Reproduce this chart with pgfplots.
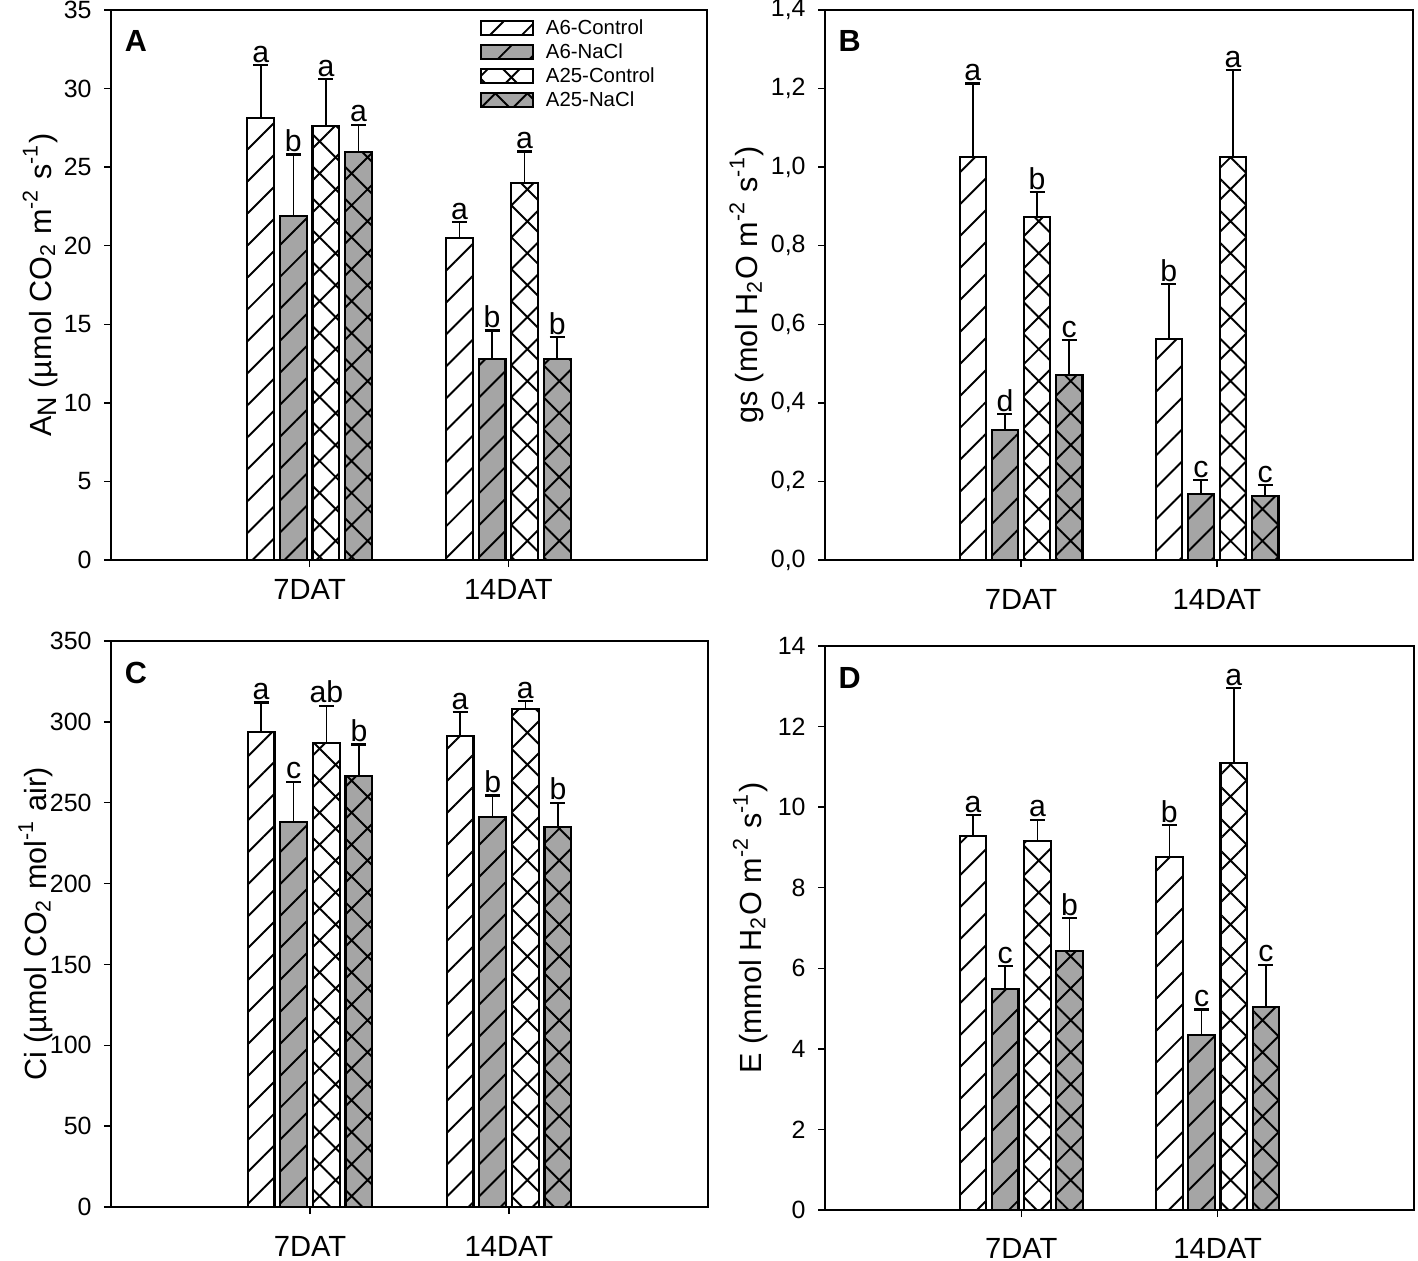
\documentclass[border=0pt]{standalone}
\usepackage{pgfplots}
\pgfplotsset{compat=1.18}
\usepackage{pgfplotstable}
\usepackage{fontspec}
\setmainfont{Liberation Sans}
\usetikzlibrary{patterns.meta}
\definecolor{barg}{RGB}{165,165,165}

\pgfplotstableread{
x v1 t1 l1 v2 t2 l2 v3 t3 l3 v4 t4 l4
1 28.1 31.5 a 21.9 25.8 b 27.6 30.6 a 25.95 27.7 a
2 20.5 21.5 a 12.8 14.6 b 24.0 26.0 a 12.8 14.2 b
}\dataA
\pgfplotstableread{
x v1 t1 l1 v2 t2 l2 v3 t3 l3 v4 t4 l4
1 1.025 1.213 a 0.330 0.372 d 0.872 0.937 b 0.471 0.560 c
2 0.563 0.702 b 0.169 0.204 c 1.025 1.247 a 0.163 0.191 c
}\dataB
\pgfplotstableread{
x v1 t1 l1 v2 t2 l2 v3 t3 l3 v4 t4 l4
1 293.5 312 a 238 263 c 287 310 ab 266.5 286 b
2 291 306 a 241 254.5 b 308 313 a 235 250 b
}\dataC
\pgfplotstableread{
x v1 t1 l1 v2 t2 l2 v3 t3 l3 v4 t4 l4
1 9.29 9.80 a 5.49 6.05 c 9.17 9.69 a 6.43 7.24 b
2 8.77 9.56 b 4.34 4.98 c 11.09 12.96 a 5.04 6.09 c
}\dataD

\pgfplotsset{
  legbox/.style={legend image code/.code={\draw[##1, line width=0.6pt] (0mm,-0.7mm) rectangle (5.2mm,0.7mm);}},
  barbase/.style={ybar, bar width=0.135, bar shift=0pt, draw=black, line width=0.6pt,
    error bars/y dir=plus, error bars/y explicit,
    error bars/error bar style={line width=0.45pt, black},
    error bars/error mark options={rotate=90, mark size=0.75mm, line width=0.65pt, black},
    legbox},
  s1/.style={barbase, fill=white, postaction={pattern={Lines[angle=45,distance=2.26mm,line width=0.55pt]}}},
  s2/.style={barbase, fill=barg, postaction={pattern={Lines[angle=45,distance=2.26mm,line width=0.55pt]}}},
  s3/.style={barbase, fill=white, postaction={pattern={Hatch[angle=45,distance=2.26mm,line width=0.55pt]}}},
  s4/.style={barbase, fill=barg, postaction={pattern={Hatch[angle=45,distance=2.26mm,line width=0.55pt]}}},
  lab/.style={ybar, bar width=0.135, bar shift=0pt, draw=none, fill=none, forget plot,
    nodes near coords, point meta=explicit symbolic,
    every node near coord/.append style={font=\fontsize{8.6}{9}\selectfont, inner sep=0.5pt, anchor=south, text=black}},
  common/.style={
    scale only axis, anchor=south west,
    xmin=0, xmax=3, ymin=0,
    xtick={1,2}, xticklabels={7DAT,14DAT},
    tick align=outside, tick pos=left,
    major tick length=0.7mm,
    axis line style={line width=0.6pt},
    every tick/.style={black, line width=0.4pt},
    yticklabel style={font=\fontsize{7.1}{8}\selectfont},
    xticklabel style={font=\fontsize{8.3}{9}\selectfont},
    /pgf/number format/assume math mode=true,
    ylabel style={font=\fontsize{8.7}{10}\selectfont, anchor=center},
  },
}

\newcommand{\panel}[1]{%
  \addplot[s1] table[x expr=\thisrow{x}-0.246, y=v1, y error expr=\thisrow{t1}-\thisrow{v1}] {#1};
  \addplot[s2] table[x expr=\thisrow{x}-0.082, y=v2, y error expr=\thisrow{t2}-\thisrow{v2}] {#1};
  \addplot[s3] table[x expr=\thisrow{x}+0.082, y=v3, y error expr=\thisrow{t3}-\thisrow{v3}] {#1};
  \addplot[s4] table[x expr=\thisrow{x}+0.246, y=v4, y error expr=\thisrow{t4}-\thisrow{v4}] {#1};
  \addplot[lab] table[x expr=\thisrow{x}-0.246, y=t1, meta=l1] {#1};
  \addplot[lab] table[x expr=\thisrow{x}-0.082, y=t2, meta=l2] {#1};
  \addplot[lab] table[x expr=\thisrow{x}+0.082, y=t3, meta=l3] {#1};
  \addplot[lab] table[x expr=\thisrow{x}+0.246, y=t4, meta=l4] {#1};
}
\newcommand{\plabel}[1]{\node[anchor=north west, inner sep=0pt, font=\fontsize{8.7}{10}\selectfont\bfseries] at (rel axis cs:0.022,0.964) {#1};}

\begin{document}
\begin{tikzpicture}
% Panel A
\begin{axis}[common, at={(11.1mm,70mm)}, width=59.6mm, height=55mm,
  ymax=35, ytick={0,5,...,35},
  ylabel={A\raisebox{-0.35ex}{\fontsize{7.6}{8}\selectfont N} (µmol CO\textsubscript{2} m\textsuperscript{-2} s\textsuperscript{-1})},
  ylabel style={at={(axis description cs:-0.119,0.5)}},
  legend style={at={(rel axis cs:0.6,1.003)}, anchor=north west, draw=none, fill=none,
    font=\fontsize{5.8}{7}\selectfont, row sep=0pt, column sep=1.0mm,
    nodes={inner sep=0.2mm, text height=1.6mm, text depth=0.4mm}},
  legend cell align=left]
\panel{\dataA}
\legend{A6-Control, A6-NaCl, A25-Control, A25-NaCl}
\plabel{A}
\end{axis}
% Panel B
\begin{axis}[common, at={(82.5mm,70mm)}, width=58.8mm, height=55mm,
  ymax=1.4, ytick={0,0.2,...,1.4},
  xticklabel style={yshift=-1.0mm},
  yticklabel style={/pgf/number format/.cd, fixed, fixed zerofill, precision=1, use comma},
  ylabel={gs (mol H\textsubscript{2}O m\textsuperscript{-2} s\textsuperscript{-1})},
  ylabel style={at={(axis description cs:-0.133,0.5)}}]
\panel{\dataB}
\plabel{B}
\end{axis}
% Panel C
\begin{axis}[common, at={(11.1mm,5.3mm)}, width=59.7mm, height=56.6mm,
  ymax=350, ytick={0,50,...,350},
  xticklabel style={yshift=-1.0mm},
  ylabel={Ci (µmol CO\textsubscript{2} mol\textsuperscript{-1} air)},
  ylabel style={at={(axis description cs:-0.126,0.5)}}]
\panel{\dataC}
\plabel{C}
\end{axis}
% Panel D
\begin{axis}[common, at={(82.5mm,5.0mm)}, width=58.9mm, height=56.4mm,
  ymax=14, ytick={0,2,...,14},
  xticklabel style={yshift=-0.85mm},
  ylabel={E (mmol H\textsubscript{2}O m\textsuperscript{-2} s\textsuperscript{-1})},
  ylabel style={at={(axis description cs:-0.127,0.5)}}]
\panel{\dataD}
\plabel{D}
\end{axis}
\pgfresetboundingbox
\useasboundingbox (0,0) rectangle (141.8mm,126mm);
\end{tikzpicture}
\end{document}
